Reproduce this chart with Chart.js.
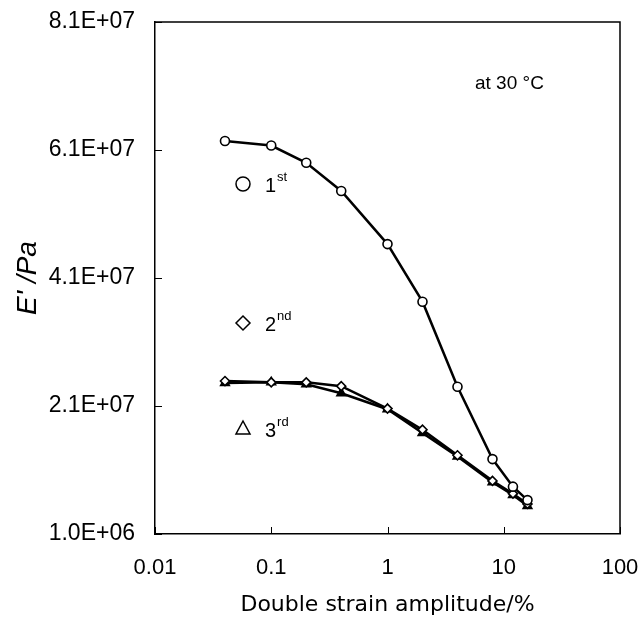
<!DOCTYPE html>
<html>
<head>
<meta charset="utf-8">
<script src="https://cdn.jsdelivr.net/npm/chart.js@4.4.0/dist/chart.umd.min.js"></script>
<style>
  html, body { margin: 0; padding: 0; background: #fff; }
  #wrap { width: 643px; height: 619px; }
</style>
</head>
<body>
<div id="wrap"><canvas id="chart"></canvas></div>
<script>
const strain = [0.04, 0.1, 0.2, 0.4, 1, 2, 4, 8, 12, 16];
const first  = [6.24e7, 6.17e7, 5.90e7, 5.46e7, 4.63e7, 3.73e7, 2.40e7, 1.27e7, 8.4e6, 6.3e6];
const second = [2.49e7, 2.47e7, 2.47e7, 2.41e7, 2.06e7, 1.73e7, 1.33e7, 9.3e6, 7.3e6, 5.7e6];
const third  = [2.46e7, 2.47e7, 2.44e7, 2.30e7, 2.05e7, 1.68e7, 1.31e7, 9.1e6, 7.1e6, 5.4e6];
const xTicks = [0.01, 0.1, 1, 10, 100];
const yTicks = [1.0e6, 2.1e7, 4.1e7, 6.1e7, 8.1e7];

function sci(v) {
  const parts = v.toExponential(1).toUpperCase().split('E');
  const exp = parseInt(parts[1], 10);
  return parts[0] + 'E' + (exp < 0 ? '-' : '+') + String(Math.abs(exp)).padStart(2, '0');
}

function pts(ys) {
  return strain.map((x, i) => ({ x: x, y: ys[i] }));
}

const FONT = "'Liberation Sans', Arial, sans-serif";
const WIDE = "'DejaVu Sans', sans-serif";

// frame, inward ticks and the labels inside the plot
const decor = {
  id: 'decor',
  afterDraw(chart) {
    const c = chart.ctx;
    const a = chart.chartArea;
    const xs = chart.scales.x, ys = chart.scales.y;
    c.save();
    c.strokeStyle = '#000';
    c.lineWidth = 1;
    yTicks.forEach(v => {
      const p = Math.round(ys.getPixelForValue(v)) + 0.5;
      c.beginPath(); c.moveTo(a.left, p); c.lineTo(a.left + 7, p); c.stroke();
    });
    xTicks.forEach(v => {
      const p = Math.round(xs.getPixelForValue(v)) + 0.5;
      c.beginPath(); c.moveTo(p, a.bottom); c.lineTo(p, a.bottom - 7); c.stroke();
    });
    c.lineWidth = 1.5;
    c.beginPath();
    c.moveTo(a.left, a.top); c.lineTo(a.right, a.top); c.lineTo(a.right, a.bottom);
    c.stroke();

    // series labels
    c.fillStyle = '#000';
    c.lineWidth = 1.5;
    const mx = 243;
    c.beginPath(); c.arc(mx, 184, 7, 0, Math.PI * 2); c.stroke();
    c.beginPath(); c.moveTo(mx, 316); c.lineTo(mx + 7, 323); c.lineTo(mx, 330); c.lineTo(mx - 7, 323); c.closePath(); c.stroke();
    c.beginPath(); c.moveTo(mx, 421); c.lineTo(mx + 7, 434); c.lineTo(mx - 7, 434); c.closePath(); c.stroke();

    const lab = [['1', 'st', 185], ['2', 'nd', 324], ['3', 'rd', 430]];
    c.textBaseline = 'middle';
    c.textAlign = 'left';
    lab.forEach(l => {
      c.font = '20px ' + FONT;
      c.fillText(l[0], 265, l[2] + 1);
      const w = c.measureText(l[0]).width;
      c.font = '13px ' + FONT;
      c.fillText(l[1], 265 + w + 1, l[2] - 8);
    });

    c.font = '19px ' + FONT;
    c.fillText('at 30 \u00B0C', 475, 84);
    c.restore();
  }
};

const ctx = document.getElementById('chart').getContext('2d');
new Chart(ctx, {
  type: 'line',
  data: {
    datasets: [
      {
        label: '1st',
        data: pts(first),
        borderColor: '#000',
        borderWidth: 2.5,
        pointStyle: 'circle',
        pointRadius: 4.5,
        pointBorderWidth: 1.6,
        pointBackgroundColor: '#fff',
        pointBorderColor: '#000'
      },
      {
        label: '2nd',
        data: pts(second),
        borderColor: '#000',
        borderWidth: 2.5,
        pointStyle: 'rectRot',
        pointRadius: 4.5,
        pointBorderWidth: 1.6,
        pointBackgroundColor: '#fff',
        pointBorderColor: '#000'
      },
      {
        label: '3rd',
        data: pts(third),
        borderColor: '#000',
        borderWidth: 2.5,
        pointStyle: 'triangle',
        pointRadius: 5,
        pointBorderWidth: 1.6,
        pointBackgroundColor: '#000',
        pointBorderColor: '#000'
      }
    ]
  },
  options: {
    responsive: true,
    maintainAspectRatio: false,
    animation: false,
    layout: { padding: { top: 22, right: 23, left: 0, bottom: 0 } },
    plugins: { legend: { display: false }, tooltip: { enabled: false } },
    scales: {
      x: {
        type: 'logarithmic',
        min: 0.01,
        max: 100,
        afterBuildTicks: s => { s.ticks = xTicks.map(v => ({ value: v })); },
        afterFit: s => { s.height = 85; s.paddingLeft = 0; s.paddingRight = 0; },
        grid: { display: true, drawOnChartArea: false, drawTicks: false },
        border: { display: true, color: '#000', width: 1.5 },
        ticks: {
          color: '#000',
          padding: 21,
          maxRotation: 0,
          font: { family: FONT, size: 22 },
          callback: v => String(v)
        },
        title: {
          display: true,
          text: 'Double strain amplitude/%',
          color: '#000',
          font: { family: WIDE, size: 22 },
          padding: { top: 1, bottom: 1 }
        }
      },
      y: {
        type: 'linear',
        min: 1.0e6,
        max: 8.1e7,
        afterBuildTicks: s => { s.ticks = yTicks.map(v => ({ value: v })); },
        afterFit: s => { s.width = 155; s.paddingTop = 0; s.paddingBottom = 0; },
        grid: { display: true, drawOnChartArea: false, drawTicks: false },
        border: { display: true, color: '#000', width: 1.5 },
        ticks: {
          color: '#000',
          padding: 20,
          font: { family: FONT, size: 23 },
          callback: v => sci(v)
        },
        title: {
          display: true,
          text: "E' /Pa",
          color: '#000',
          font: { family: FONT, size: 28, style: 'italic' },
          padding: { top: 11, bottom: 11 }
        }
      }
    }
  },
  plugins: [decor]
});
</script>
</body>
</html>
